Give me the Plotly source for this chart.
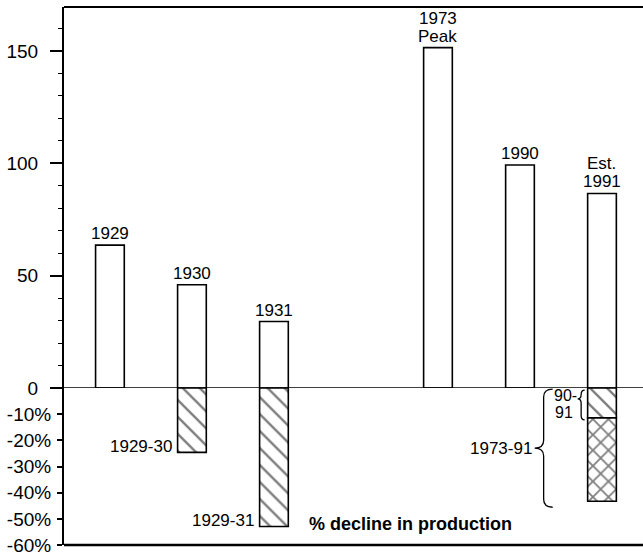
import plotly.graph_objects as go

# ---------------- data ----------------
categories = ["1929", "1930", "1931", " ", "1973", "1990", "1991"]   # " " = gap slot
years = ["1929", "1930", "1931", "1973", "1990", "1991"]
production = [63.6, 46.0, 29.6, 151.5, 99.3, 86.6]
bar_labels = [["1929"], ["1930"], ["1931"], ["1973", "Peak"], ["1990"], ["Est.", "1991"]]

decline_years = ["1930", "1931", "1991"]
decline_labels = ["1929-30", "1929-31"]
decline_pct = [24.6, 52.9, 11.4]          # 1929-30, 1929-31, 1990-91
decline_73_91 = 43.3                      # total 1973-91 decline

upper_ticks = [0, 50, 100, 150]
lower_ticks = [-10, -20, -30, -40, -50, -60]
lower_ticktext = ["-10%", "-20%", "-30%", "-40%", "-50%", "-60%"]

# ---------------- layout constants ----------------
W, H = 643, 556
ML, MR, MT, MB = 64, 0, 7, 4
PW, PH = W - ML - MR, H - MT - MB
F = 0.2917                 # fraction of height for the % panel
X0, X1 = -0.56, 6.5
UP_MAX = 169.6
LOW_MIN = -60
BW = 0.35
FONT = "Liberation Sans, Arial, Helvetica, sans-serif"

def x_px(idx):
    return ML + (idx - X0) / (X1 - X0) * PW

def y2_px(v):
    return MT + PH * (1 - F * (v - LOW_MIN) / (0 - LOW_MIN))

def px2x(px):
    return (px - ML) / PW

def px2y(py):
    return (MT + PH - py) / PH

fig = go.Figure()

fig.add_trace(go.Bar(
    x=years, y=production, width=BW, yaxis="y",
    marker=dict(color="white", line=dict(color="black", width=1.6)),
    hoverinfo="skip", showlegend=False,
))

fig.add_trace(go.Bar(
    x=decline_years, y=[-v for v in decline_pct], width=BW, yaxis="y2",
    marker=dict(color="white", line=dict(color="black", width=1.6),
                pattern=dict(shape="\\", fgcolor="black", bgcolor="white",
                             size=12, solidity=0.2)),
    hoverinfo="skip", showlegend=False,
))

fig.add_trace(go.Bar(
    x=["1991"], y=[-(decline_73_91 - decline_pct[2])], base=[-decline_pct[2]],
    width=BW, yaxis="y2",
    marker=dict(color="white", line=dict(color="black", width=1.6),
                pattern=dict(shape="x", fgcolor="black", bgcolor="white",
                             size=11, solidity=0.3)),
    hoverinfo="skip", showlegend=False,
))

annotations = []
# labels above production bars
for yr, val, lines in zip(years, production, bar_labels):
    idx = categories.index(yr)
    for k, line in enumerate(reversed(lines)):
        annotations.append(dict(
            x=idx, y=val, xref="x", yref="y", text=line, showarrow=False,
            xanchor="center", yanchor="bottom", yshift=0 + 18 * k,
            font=dict(size=17, color="black", family=FONT)))

# labels beside decline bars
for yr, lab, val in zip(decline_years[:2], decline_labels, decline_pct[:2]):
    idx = categories.index(yr)
    annotations.append(dict(
        x=idx - BW / 2, y=-val, xref="x", yref="y2", text=lab, showarrow=False,
        xanchor="right", yanchor="middle", xshift=-4, yshift=6,
        font=dict(size=17, color="black", family=FONT)))

i91 = categories.index("1991")
left91 = x_px(i91 - BW / 2)
# 90-91 label
annotations.append(dict(
    x=px2x(left91 - 22), y=px2y(y2_px(0) + 8), xref="paper", yref="paper",
    text="90-", showarrow=False, xanchor="center", yanchor="middle",
    font=dict(size=16, color="black", family=FONT)))
annotations.append(dict(
    x=px2x(left91 - 24), y=px2y(y2_px(0) + 25), xref="paper", yref="paper",
    text="91", showarrow=False, xanchor="center", yanchor="middle",
    font=dict(size=16, color="black", family=FONT)))
# 1973-91 label
big_tip = left91 - 53
big_top = y2_px(0) + 1
big_bot = y2_px(-decline_73_91) + 6
big_mid = (big_top + big_bot) / 2
annotations.append(dict(
    x=px2x(big_tip - 1), y=px2y(big_mid), xref="paper", yref="paper",
    text="1973-91", showarrow=False, xanchor="right", yanchor="middle",
    font=dict(size=17, color="black", family=FONT)))

annotations.append(dict(
    x=px2x(411), y=px2y(531), xref="paper", yref="paper",
    text="<b>% decline in production</b>", showarrow=False,
    xanchor="center", yanchor="middle",
    font=dict(size=18, color="black", family=FONT)))


def brace_path(xtip, xright, ytop, ybot, ymid=None):
    if ymid is None:
        ymid = (ytop + ybot) / 2
    xm = (xtip + xright) / 2
    r = min(8, (ymid - ytop) / 2)
    pts = [
        f"M {px2x(xright)},{px2y(ytop)}",
        f"Q {px2x(xm)},{px2y(ytop)} {px2x(xm)},{px2y(ytop + r)}",
        f"L {px2x(xm)},{px2y(ymid - r)}",
        f"Q {px2x(xm)},{px2y(ymid)} {px2x(xtip)},{px2y(ymid)}",
        f"Q {px2x(xm)},{px2y(ymid)} {px2x(xm)},{px2y(ymid + r)}",
        f"L {px2x(xm)},{px2y(ybot - r)}",
        f"Q {px2x(xm)},{px2y(ybot)} {px2x(xright)},{px2y(ybot)}",
    ]
    return " ".join(pts)


shapes = [
    # zero line
    dict(type="line", xref="paper", yref="y", x0=0, x1=1, y0=0, y1=0,
         line=dict(color="black", width=1.6)),
    # top and bottom frame
    dict(type="line", xref="paper", yref="paper", x0=0, x1=1, y0=1, y1=1,
         line=dict(color="black", width=2)),
    dict(type="line", xref="paper", yref="paper", x0=0, x1=1, y0=0, y1=0,
         line=dict(color="black", width=2.5)),
    # big brace 1973-91
    dict(type="path", xref="paper", yref="paper",
         path=brace_path(big_tip, left91 - 35, big_top, big_bot),
         line=dict(color="black", width=1.3)),
    # small brace 90-91
    dict(type="path", xref="paper", yref="paper",
         path=brace_path(left91 - 10, left91 - 3, y2_px(0) + 2,
                         y2_px(-decline_pct[2]) + 2, y2_px(0) + 11),
         line=dict(color="black", width=1.3)),
]

fig.update_layout(
    width=W, height=H,
    margin=dict(l=ML, r=MR, t=MT, b=MB, pad=0),
    paper_bgcolor="white", plot_bgcolor="white",
    font=dict(family=FONT, color="black"),
    barmode="overlay",
    showlegend=False,
    xaxis=dict(type="category", categoryorder="array", categoryarray=categories,
               range=[X0, X1], showticklabels=False, ticks="", showgrid=False,
               zeroline=False, showline=False, anchor="y2", fixedrange=True),
    yaxis=dict(domain=[F, 1], range=[0, UP_MAX], tickvals=upper_ticks,
               ticks="outside", ticklen=12, tickwidth=1.6, tickcolor="black",
               minor=dict(dtick=10, tick0=0, ticks="outside", ticklen=4,
                          tickwidth=1.3, tickcolor="black"),
               showline=True, linewidth=2, linecolor="black",
               showgrid=False, zeroline=False, ticklabelstandoff=8,
               ticklabeloverflow="allow",
               tickfont=dict(size=19, color="black", family=FONT)),
    yaxis2=dict(domain=[0, F], range=[LOW_MIN, 0], tickvals=lower_ticks,
                ticktext=lower_ticktext, ticks="outside", ticklen=5,
                tickwidth=1.6, tickcolor="black",
                showline=True, linewidth=2, linecolor="black",
                showgrid=False, zeroline=False, ticklabelstandoff=2,
                ticklabeloverflow="allow",
                tickfont=dict(size=19, color="black", family=FONT)),
    annotations=annotations,
    shapes=shapes,
)

fig.write_html(
    "out.html",
    config={"displayModeBar": False},
    post_script="document.body.style.margin='0';document.body.style.overflow='hidden';",
)
